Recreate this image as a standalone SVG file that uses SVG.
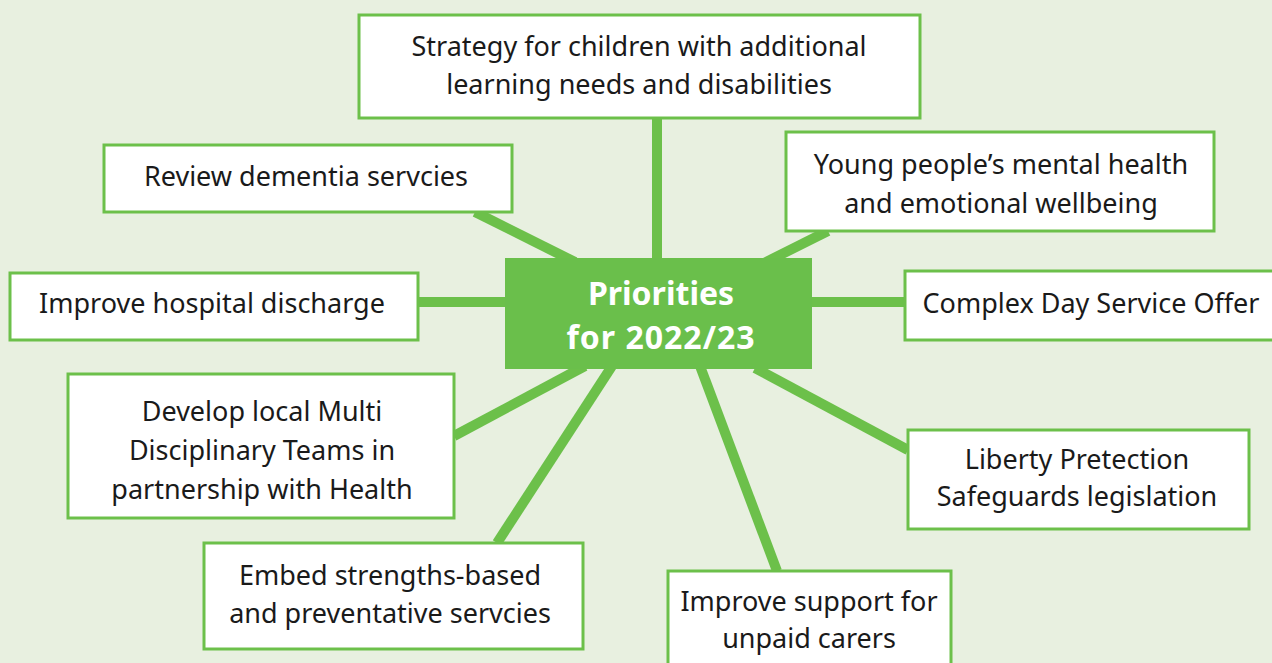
<svg xmlns="http://www.w3.org/2000/svg" width="1272" height="663" viewBox="0 0 1272 663">
<style>
.box{fill:#ffffff;stroke:#6cc04a;stroke-width:3}
.t{font-family:"Noto Sans","Open Sans",sans-serif;font-size:27px;fill:#1a1a1a;text-anchor:middle}
.c{font-family:"Noto Sans","Open Sans",sans-serif;font-size:32px;font-weight:bold;fill:#ffffff;text-anchor:middle}
.ln{stroke:#6cc04a;stroke-width:10;fill:none}
</style>
<rect width="1272" height="663" fill="#e8f0e0"/>
<g id="connectors">
<line class="ln" x1="657" y1="118" x2="657" y2="262"/>
<line class="ln" x1="475" y1="212" x2="575" y2="262"/>
<line class="ln" x1="828" y1="231" x2="760" y2="265"/>
<line class="ln" x1="418" y1="302" x2="510" y2="302"/>
<line class="ln" x1="808" y1="302" x2="905" y2="302"/>
<line class="ln" x1="454" y1="436" x2="585" y2="366"/>
<line class="ln" x1="755" y1="368" x2="908" y2="450"/>
<line class="ln" x1="497" y1="543" x2="612" y2="366"/>
<line class="ln" x1="777" y1="571" x2="700" y2="366"/>
</g>
<g id="center">
<rect x="505" y="258" width="307" height="111" fill="#6abf4b"/>
<text class="c" x="661" y="305">Priorities</text>
<text class="c" x="661" y="349" letter-spacing="1">for 2022/23</text>
</g>
<g id="n-strategy">
<rect class="box" x="359" y="15" width="561" height="103"/>
<text class="t" x="639" y="56">Strategy for children with additional</text>
<text class="t" x="639" y="94">learning needs and disabilities</text>
</g>
<g id="n-dementia">
<rect class="box" x="104" y="145" width="408" height="67"/>
<text class="t" x="306" y="186">Review dementia servcies</text>
</g>
<g id="n-young">
<rect class="box" x="786" y="132" width="428" height="99"/>
<text class="t" x="1001" y="174">Young people’s mental health</text>
<text class="t" x="1001" y="213">and emotional wellbeing</text>
</g>
<g id="n-hospital">
<rect class="box" x="10" y="273" width="408" height="67"/>
<text class="t" x="212" y="313">Improve hospital discharge</text>
</g>
<g id="n-complex">
<rect class="box" x="905" y="271" width="380" height="69"/>
<text class="t" x="1091" y="313">Complex Day Service Offer</text>
</g>
<g id="n-mdt">
<rect class="box" x="68" y="374" width="386" height="144"/>
<text class="t" x="262" y="421">Develop local Multi</text>
<text class="t" x="262" y="460">Disciplinary Teams in</text>
<text class="t" x="262" y="499">partnership with Health</text>
</g>
<g id="n-liberty">
<rect class="box" x="908" y="430" width="341" height="99"/>
<text class="t" x="1077" y="469">Liberty Pretection</text>
<text class="t" x="1077" y="506">Safeguards legislation</text>
</g>
<g id="n-embed">
<rect class="box" x="204" y="543" width="379" height="106"/>
<text class="t" x="390" y="585">Embed strengths-based</text>
<text class="t" x="390" y="623">and preventative servcies</text>
</g>
<g id="n-carers">
<rect class="box" x="668" y="571" width="283" height="100"/>
<text class="t" x="809" y="611">Improve support for</text>
<text class="t" x="809" y="648">unpaid carers</text>
</g>
</svg>
